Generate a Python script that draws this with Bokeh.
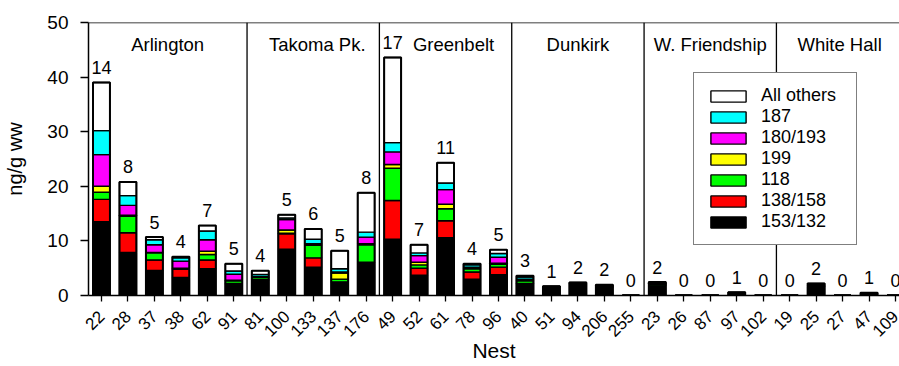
import math
from bokeh.plotting import figure
from bokeh.models import ColumnDataSource, Range1d, FixedTicker, Legend, LegendItem, Span
from bokeh.core.properties import value
from bokeh.embed import file_html
from bokeh.resources import INLINE

nests = ["22", "28", "37", "38", "62", "91",
         "81", "100", "133", "137", "176",
         "49", "52", "61", "78", "96",
         "40", "51", "94", "206", "255",
         "23", "26", "87", "97", "102",
         "19", "25", "27", "47", "109"]
groups = ["Arlington", "Takoma Pk.", "Greenbelt", "Dunkirk", "W. Friendship", "White Hall"]
group_sizes = [6, 5, 5, 5, 5, 5]
counts = [14, 8, 5, 4, 7, 5,
          4, 5, 6, 5, 8,
          17, 7, 11, 4, 5,
          3, 1, 2, 2, 0,
          2, 0, 0, 1, 0,
          0, 2, 0, 1, 0]

c153_132 = [13.5, 7.9, 4.6, 3.3, 4.9, 2.1, 2.8, 8.5, 5.2, 2.4, 6.0, 10.3, 3.7, 10.6, 3.0, 3.8,
            2.0, 1.5, 2.2, 1.5, 0, 1.8, 0, 0, 0.5, 0, 0, 1.6, 0, 0.4, 0]
c138_158 = [4.1, 3.6, 1.9, 1.5, 1.6, 0.1, 0.1, 2.8, 1.7, 0.1, 0.1, 7.1, 1.3, 3.1, 1.3, 1.4,
            0.2, 0.05, 0.05, 0.05, 0, 0.1, 0, 0, 0, 0, 0, 0.1, 0, 0, 0]
c118 = [1.3, 3.0, 1.3, 0.15, 1.0, 0.5, 0.4, 0.1, 2.3, 0.5, 3.2, 5.9, 0.6, 2.2, 0.6, 0.5,
        0.5, 0.05, 0.05, 0.05, 0, 0.1, 0, 0, 0, 0, 0, 0.05, 0, 0, 0]
c199 = [1.1, 0.2, 0.1, 0.05, 0.6, 0.1, 0.05, 0.6, 0.1, 1.1, 0.2, 0.7, 0.5, 0.8, 0.1, 0.2,
        0.1, 0, 0, 0, 0, 0, 0, 0, 0, 0, 0, 0, 0, 0, 0]
c180_193 = [5.8, 1.8, 1.4, 1.3, 2.1, 1.1, 0.1, 1.9, 0.2, 0.2, 1.2, 2.3, 1.2, 2.7, 0.2, 1.1,
            0.2, 0, 0, 0.05, 0, 0.05, 0, 0, 0, 0, 0, 0.05, 0, 0, 0]
c187 = [4.4, 1.8, 0.9, 0.6, 1.6, 0.6, 0.4, 0.3, 0.8, 0.6, 0.9, 1.7, 0.5, 1.2, 0.4, 0.7,
        0.4, 0.05, 0.05, 0.2, 0, 0.2, 0, 0, 0, 0, 0, 0.2, 0, 0, 0]
c_others = [8.8, 2.5, 0.5, 0.2, 1.0, 1.3, 0.7, 0.6, 1.9, 3.3, 7.2, 15.6, 1.5, 3.7, 0.2, 0.7,
            0.2, 0.05, 0.05, 0.1, 0, 0.2, 0, 0, 0.1, 0, 0, 0.2, 0, 0.1, 0]

series_names = ["153/132", "138/158", "118", "199", "180/193", "187", "All others"]
series_values = [c153_132, c138_158, c118, c199, c180_193, c187, c_others]
series_colors = ["#000000", "#FF0000", "#00FF00", "#FFFF00", "#FF00FF", "#00FFFF", "#FFFFFF"]
y_ticks = [0, 10, 20, 30, 40, 50]

FONT = "Liberation Sans"

n = len(nests)
xs = list(range(n))
keys = ["s%d" % i for i in range(len(series_names))]
data = {"x": xs}
for k, vals in zip(keys, series_values):
    data[k] = vals
totals = [sum(v[i] for v in series_values) for i in range(n)]
data["total"] = totals
data["count"] = [str(c) for c in counts]
src = ColumnDataSource(data)

p = figure(width=899, height=366, x_range=Range1d(-0.49, 30.15), y_range=Range1d(0, 50),
           output_backend="svg", toolbar_location=None,
           min_border_left=88, min_border_right=0, min_border_top=22, min_border_bottom=71)
p.outline_line_color = None
p.xgrid.visible = False
p.ygrid.visible = False

# group separators
bounds = []
acc = 0
for s in group_sizes[:-1]:
    acc += s
    bounds.append(acc - 0.5)
p.segment(x0=bounds, y0=[0] * len(bounds), x1=bounds, y1=[50] * len(bounds),
          line_color="black", line_width=1.3)

renderers = p.vbar_stack(keys, x="x", width=0.64, color=series_colors, line_color="black",
                         line_width=1.4, source=src)
p.vbar(x="x", top="total", bottom=0, width=0.64, fill_color=None, line_color="black",
       line_width=2, source=src)

p.text(x="x", y="total", text="count", source=src, text_align="center",
       text_baseline="alphabetic", y_offset=-15, text_font=value(FONT),
       text_font_size="18px", text_color="black")

# group labels
centers = []
start = 0
for s in group_sizes:
    centers.append(start + (s - 1) / 2)
    start += s
label_dx = [0, 4, 8, 0, 0, -3]
gsrc = ColumnDataSource(dict(x=centers, y=[50] * len(groups), t=groups, dx=label_dx))
p.text(x="x", y="y", text="t", x_offset="dx", y_offset=22, source=gsrc,
       text_align="center", text_baseline="middle", text_font=value(FONT),
       text_font_size="18.5px", text_color="black")

p.add_layout(Span(location=50, dimension="width", line_color="black", line_width=1.5))

# axes
p.yaxis.ticker = FixedTicker(ticks=y_ticks)
p.yaxis.axis_label = "ng/g ww"
p.xaxis.ticker = FixedTicker(ticks=xs)
p.xaxis.major_label_overrides = {i: nm for i, nm in enumerate(nests)}
p.xaxis.major_label_orientation = math.pi / 4
p.xaxis.axis_label = "Nest"
for ax in (p.xaxis[0], p.yaxis[0]):
    ax.minor_tick_line_color = None
    ax.major_tick_in = 0
    ax.axis_line_color = "black"
    ax.axis_line_width = 1.5
    ax.major_tick_line_color = "black"
    ax.major_tick_line_width = 1.3
    ax.major_label_text_font = FONT
    ax.major_label_text_color = "black"
    ax.axis_label_text_font = FONT
    ax.axis_label_text_font_style = "normal"
    ax.axis_label_text_color = "black"
p.yaxis.major_tick_out = 8
p.yaxis.major_label_text_font_size = "19px"
p.yaxis.major_label_standoff = 12
p.yaxis.axis_label_text_font_size = "20px"
p.yaxis.axis_label_standoff = 18
p.xaxis.major_tick_out = 6
p.xaxis.major_label_text_font_size = "17px"
p.xaxis.major_label_standoff = 12
p.xaxis.axis_label_text_font_size = "21px"
p.xaxis.axis_label_standoff = -6

legend_items = [LegendItem(label=nm, renderers=[r])
                for nm, r in zip(reversed(series_names), reversed(renderers))]
legend = Legend(items=legend_items, location=(605, 50), orientation="vertical",
                glyph_width=44, glyph_height=14, label_height=14, label_width=83,
                label_standoff=11, spacing=0, padding=12, margin=0,
                border_line_color="black", border_line_width=1.5,
                background_fill_color="white", background_fill_alpha=1.0,
                label_text_font=FONT, label_text_font_size="18px", label_text_color="black")
p.add_layout(legend)

open("out.html", "w").write(file_html(p, INLINE))
